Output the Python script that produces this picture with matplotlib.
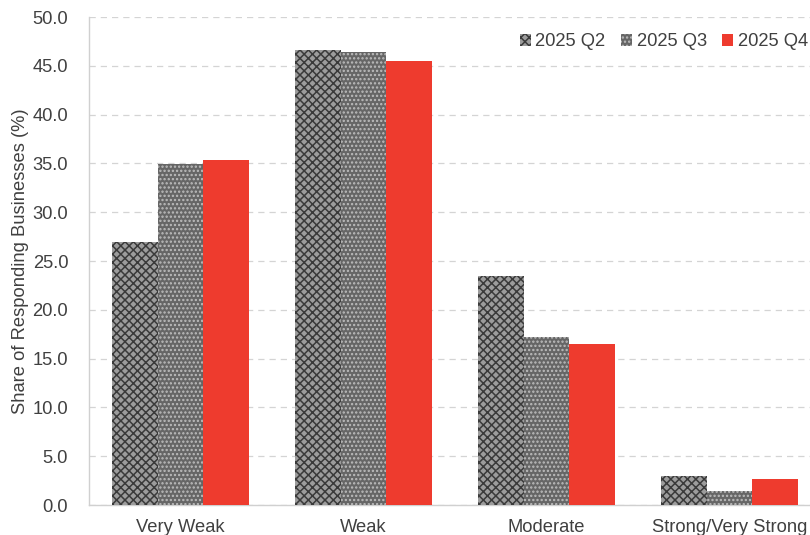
import matplotlib
matplotlib.use("Agg")
import matplotlib.pyplot as plt
import numpy as np

categories = ["Very Weak", "Weak", "Moderate", "Strong/Very Strong"]
series_names = ["2025 Q2", "2025 Q3", "2025 Q4"]
q2 = [26.9, 46.6, 23.5, 3.0]
q3 = [34.9, 46.4, 17.2, 1.4]
q4 = [35.3, 45.5, 16.5, 2.7]
yticks = [0, 5, 10, 15, 20, 25, 30, 35, 40, 45, 50]

plt.rcParams['font.family'] = ['Liberation Sans', 'DejaVu Sans']
plt.rcParams['hatch.linewidth'] = 1.1

fig = plt.figure(figsize=(8.1, 5.35), dpi=100)
ax = fig.add_axes([89/810, 30/535, 732/810, 488/535])

x = np.arange(len(categories))
w = 0.25
styles = [
    dict(color='#9c9c9c', hatch='xxxx', edgecolor='#3a3a3a'),
    dict(color='#666666', hatch='....', edgecolor='#bdbdbd'),
    dict(color='#EE3B2E', hatch=None, edgecolor='#EE3B2E'),
]
for i, (vals, name) in enumerate(zip([q2, q3, q4], series_names)):
    st = styles[i]
    ax.bar(x + (i - 1) * w, vals, width=w, facecolor=st['color'],
           edgecolor=st['edgecolor'], hatch=st['hatch'], linewidth=0,
           label=name, zorder=3)

ax.set_xlim(-0.5, 3.5)
ax.set_ylim(0, 50)
ax.set_yticks(yticks)
ax.set_yticklabels([f"{v:.1f}" for v in yticks])
ax.set_xticks(x)
ax.set_xticklabels(categories)
ax.tick_params(axis='both', length=0, labelsize=13.2, colors='#404040')
ax.tick_params(axis='y', pad=15)
ax.tick_params(axis='x', pad=10)
ax.yaxis.grid(True, linestyle=(0, (5, 4)), color='#d4d4d4', linewidth=0.9, zorder=0)
ax.set_axisbelow(True)
for s in ['top', 'right']:
    ax.spines[s].set_visible(False)
for s in ['left', 'bottom']:
    ax.spines[s].set_color('#d0d0d0')
    ax.spines[s].set_linewidth(1.0)
ax.set_ylabel("Share of Responding Businesses (%)", fontsize=13.2, color='#404040', labelpad=2.5)

fig.legend(loc='center right', bbox_to_anchor=(1.018, 1 - 42/535), ncol=3, frameon=False,
           fontsize=13.2, handlelength=0.6, handleheight=0.6, handletextpad=0.25,
           columnspacing=0.85, labelcolor='#404040')

fig.savefig("out.png", dpi=100)
